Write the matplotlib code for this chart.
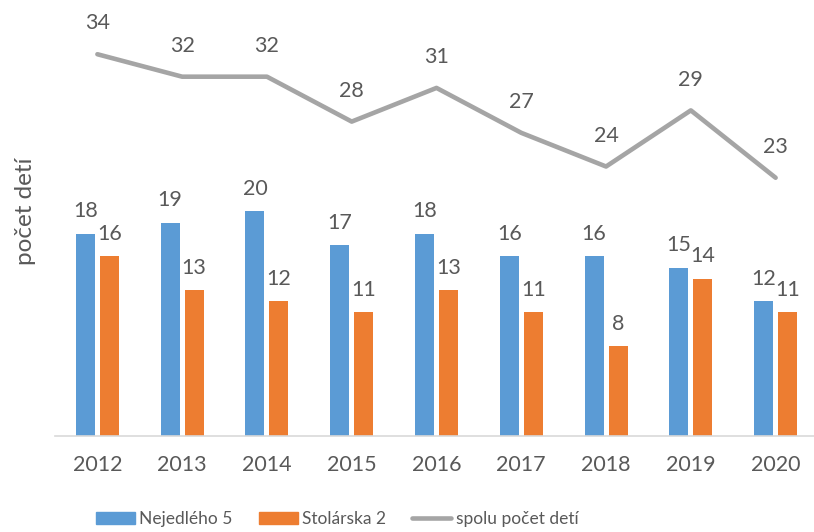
import matplotlib
matplotlib.use("Agg")
import matplotlib.pyplot as plt
import numpy as np
from matplotlib.lines import Line2D
from matplotlib.patches import Patch

years = ["2012", "2013", "2014", "2015", "2016", "2017", "2018", "2019", "2020"]
nejedleho = [18, 19, 20, 17, 18, 16, 16, 15, 12]
stolarska = [16, 13, 12, 11, 13, 11, 8, 14, 11]
spolu = [34, 32, 32, 28, 31, 27, 24, 29, 23]

BLUE = "#5B9BD5"
ORANGE = "#ED7D31"
GRAY = "#A5A5A5"
TXT = "#595959"
FONT = "Lato"
plt.rcParams["font.family"] = [FONT, "DejaVu Sans"]

W, H = 814, 532
fig = plt.figure(figsize=(W / 100, H / 100), dpi=100)
ax = fig.add_axes([55 / W, 96 / H, 763 / W, 393 / H])

x = np.arange(len(years))
bw = 0.224
off = 0.142
ax.bar(x - off, nejedleho, bw, color=BLUE, zorder=2)
ax.bar(x + off, stolarska, bw, color=ORANGE, zorder=2)
ax.plot(x, spolu, color=GRAY, lw=3.3, solid_capstyle="round", zorder=3)

fs = 15.5
for xi, v in zip(x, nejedleho):
    ax.annotate(str(v), (xi - off, v), xytext=(0, 9), textcoords="offset points",
                ha="center", va="bottom", fontsize=fs, color=TXT)
for xi, v in zip(x, stolarska):
    ax.annotate(str(v), (xi + off, v), xytext=(0, 9), textcoords="offset points",
                ha="center", va="bottom", fontsize=fs, color=TXT)
for xi, v in zip(x, spolu):
    ax.annotate(str(v), (xi, v), xytext=(0, 15), textcoords="offset points",
                ha="center", va="bottom", fontsize=fs, color=TXT, annotation_clip=False)

ax.set_xlim(-0.5, len(years) - 0.5)
ax.set_ylim(0, 35)
ax.set_xticks(x)
ax.set_xticklabels(years, fontsize=fs, color=TXT)
ax.tick_params(axis="x", length=0, pad=14)
ax.set_yticks([])
for s in ["top", "right", "left"]:
    ax.spines[s].set_visible(False)
ax.spines["bottom"].set_color("#D9D9D9")
ax.spines["bottom"].set_linewidth(1.2)

fig.text(26 / W, 1 - 211 / H, "počet detí", rotation=90, ha="center", va="center",
         fontsize=17.5, color=TXT)

handles = [Patch(color=BLUE), Patch(color=ORANGE),
           Line2D([0], [0], color=GRAY, lw=3.3, solid_capstyle="round")]
labels = ["Nejedlého 5", "Stolárska 2", "spolu počet detí"]
fig.legend(handles, labels, loc="center", bbox_to_anchor=(337 / W, 1 - 519 / H),
           ncol=3, frameon=False, fontsize=12.5, handlelength=2.25, handleheight=0.7,
           handletextpad=0.25, columnspacing=1.5, labelcolor=TXT)

fig.savefig("out.png", dpi=100)
